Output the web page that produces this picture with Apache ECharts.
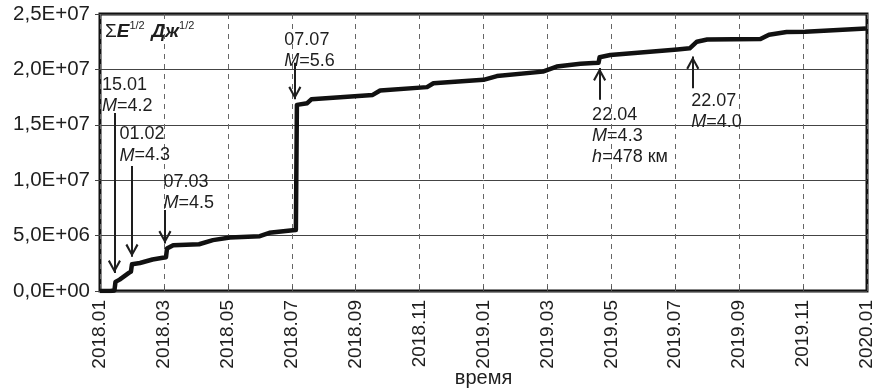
<!DOCTYPE html>
<html>
<head>
<meta charset="utf-8">
<script src="https://cdn.jsdelivr.net/npm/echarts@6/dist/echarts.min.js"></script>
<style>
  html, body { margin: 0; padding: 0; background: #fff; }
  #chart { width: 874px; height: 390px; }
</style>
</head>
<body>
<div id="chart"></div>
<script>
// Cumulative sum of sqrt(E) over 2018–2019
const dates = [
  '2018-01-01','2018-01-11','2018-01-15','2018-01-16','2018-01-20','2018-01-25','2018-01-29','2018-01-31',
  '2018-02-01','2018-02-08','2018-02-19','2018-02-28','2018-03-03','2018-03-04','2018-03-10','2018-04-04',
  '2018-04-17','2018-05-03','2018-06-01','2018-06-10','2018-07-02','2018-07-05','2018-07-06','2018-07-16',
  '2018-07-20','2018-09-17','2018-09-24','2018-11-08','2018-11-14','2019-01-01','2019-01-14','2019-02-25',
  '2019-03-10','2019-04-02','2019-04-14','2019-04-19','2019-04-20','2019-04-30','2019-07-03','2019-07-15',
  '2019-07-22','2019-08-01','2019-09-21','2019-09-29','2019-10-16','2019-11-03','2019-12-31'
];
const sumValues = [
  0, 0, 0.05e6, 0.82e6, 1.03e6, 1.36e6, 1.63e6, 1.75e6,
  2.42e6, 2.53e6, 2.84e6, 3.0e6, 3.05e6, 3.83e6, 4.13e6, 4.22e6,
  4.59e6, 4.83e6, 4.95e6, 5.25e6, 5.49e6, 5.5e6, 16.8e6, 16.95e6,
  17.3e6, 17.7e6, 18.1e6, 18.4e6, 18.75e6, 19.06e6, 19.4e6, 19.8e6,
  20.26e6, 20.5e6, 20.57e6, 20.6e6, 21.1e6, 21.3e6, 21.8e6, 21.9e6,
  22.5e6, 22.7e6, 22.74e6, 23.13e6, 23.37e6, 23.4e6, 23.7e6
];

// Notable events: label text, arrow date, arrow start and tip values
const eventLabels = ['15.01\n{i|M}=4.2', '01.02\n{i|M}=4.3', '07.03\n{i|M}=4.5', '07.07\n{i|M}=5.6',
                     '22.04\n{i|M}=4.3\n{i|h}=478 км', '22.07\n{i|M}=4.0'];
const eventDates  = ['2018-01-15', '2018-02-01', '2018-03-02', '2018-07-04', '2019-04-20', '2019-07-18'];
const arrowFrom   = [16.07e6, 11.28e6, 7.30e6, 20.6e6, 17.25e6, 18.3e6];
const arrowTo     = [1.63e6, 3.08e6, 4.29e6, 17.3e6, 20.12e6, 21.17e6];
const labelShift  = [[-13, -17], [-13, -21], [-2, -18], [-11, -12], [-8, 36], [-2, 23]];

const xTickStart = 2018;
const FONT = "'Liberation Sans', Arial, sans-serif";
const INK = '#1e1e1e';

// dates -> months since January of the first year (fractional)
function toMonths(s) {
  const [y, m, d] = s.split('-').map(Number);
  const dim = new Date(Date.UTC(y, m, 0)).getUTCDate();
  return (y - xTickStart) * 12 + (m - 1) + (d - 1) / dim;
}
const pad = n => (n < 10 ? '0' : '') + n;
function monthLabel(v) {
  const y = xTickStart + Math.floor(v / 12);
  const m = Math.round(v - Math.floor(v / 12) * 12) + 1;
  return y + '.' + pad(m);
}
function sciLabel(v) {
  if (v === 0) return '0,0E+00';
  const [mant, exp] = v.toExponential(1).split('e');
  const e = parseInt(exp, 10);
  return mant.replace('.', ',') + 'E' + (e < 0 ? '-' : '+') + pad(Math.abs(e));
}

const seriesData = dates.map((d, i) => [toMonths(d), sumValues[i]]);

// open arrowhead, tip pointing up in its own frame
const chevron = 'path://M6.5,0 L13,9 L11.2,10 L6.5,3.2 L1.8,10 L0,9 Z';

const arrowLines = eventDates.map((d, i) => [
  { coord: [toMonths(d), arrowFrom[i]] },
  { coord: [toMonths(d), arrowTo[i]] }
]);

const richStyle = {
  i: { fontStyle: 'italic', fontSize: 18, fontFamily: FONT, color: INK, lineHeight: 21 }
};
const labelPoints = eventDates.map((d, i) => ({
  coord: [toMonths(d), arrowFrom[i]],
  label: {
    show: true,
    position: 'right',
    distance: 0,
    offset: labelShift[i],
    formatter: eventLabels[i],
    align: 'left',
    fontSize: 18,
    fontFamily: FONT,
    color: INK,
    lineHeight: 21,
    rich: richStyle
  }
}));

const chart = echarts.init(document.getElementById('chart'), null, { renderer: 'canvas' });
chart.setOption({
  animation: false,
  backgroundColor: '#ffffff',
  grid: {
    left: 100, right: 7, top: 14, bottom: 99,
    show: true, borderColor: '#111', borderWidth: 3,
    containLabel: false, outerBoundsMode: 'none'
  },
  xAxis: {
    type: 'value',
    min: 0, max: 24, interval: 2,
    name: 'время',
    nameLocation: 'middle',
    nameGap: 77,
    nameMoveOverlap: false,
    nameTextStyle: { fontSize: 20, fontFamily: FONT, color: INK },
    axisLine: { show: false },
    axisTick: { show: true, inside: true, length: 5, lineStyle: { color: '#555' } },
    axisLabel: {
      rotate: 90, margin: 9, fontSize: 19, fontFamily: FONT, color: INK,
      formatter: monthLabel, showMinLabel: true, showMaxLabel: true
    },
    splitLine: { show: true, lineStyle: { color: '#666', width: 1, type: [5, 5] } }
  },
  yAxis: {
    type: 'value',
    min: 0, max: 2.5e7, interval: 5e6,
    axisLine: { show: false },
    axisTick: { show: true, inside: false, length: 5, lineStyle: { color: '#444' } },
    axisLabel: { margin: 10, fontSize: 20.5, fontFamily: FONT, color: INK, formatter: sciLabel },
    splitLine: { show: true, lineStyle: { color: '#444', width: 1, type: 'solid' } }
  },
  graphic: [{
    type: 'text',
    left: 105, top: 20,
    style: {
      text: '{s|Σ}{b|E}{p|1/2}  {b|Дж}{p|1/2}',
      rich: {
        s: { fontSize: 19, fontFamily: FONT, fill: INK, lineHeight: 23 },
        b: { fontSize: 19, fontFamily: FONT, fontWeight: 'bold', fontStyle: 'italic', fill: INK, lineHeight: 23 },
        p: { fontSize: 11, fontFamily: FONT, fill: INK, lineHeight: 12, verticalAlign: 'top' }
      }
    }
  }],
  series: [{
    type: 'line',
    data: seriesData,
    showSymbol: false,
    symbol: 'none',
    lineStyle: { color: '#111', width: 4.5, join: 'round' },
    markLine: {
      silent: true,
      symbol: ['none', chevron],
      symbolSize: 13,
      symbolOffset: [[0, 0], [0, 6.5]],
      label: { show: false },
      lineStyle: { color: INK, width: 2, type: 'solid' },
      emphasis: { disabled: true },
      data: arrowLines
    },
    markPoint: {
      silent: true,
      symbol: 'rect',
      symbolSize: 1,
      itemStyle: { color: 'rgba(0,0,0,0)' },
      data: labelPoints
    }
  }]
});
</script>
</body>
</html>
